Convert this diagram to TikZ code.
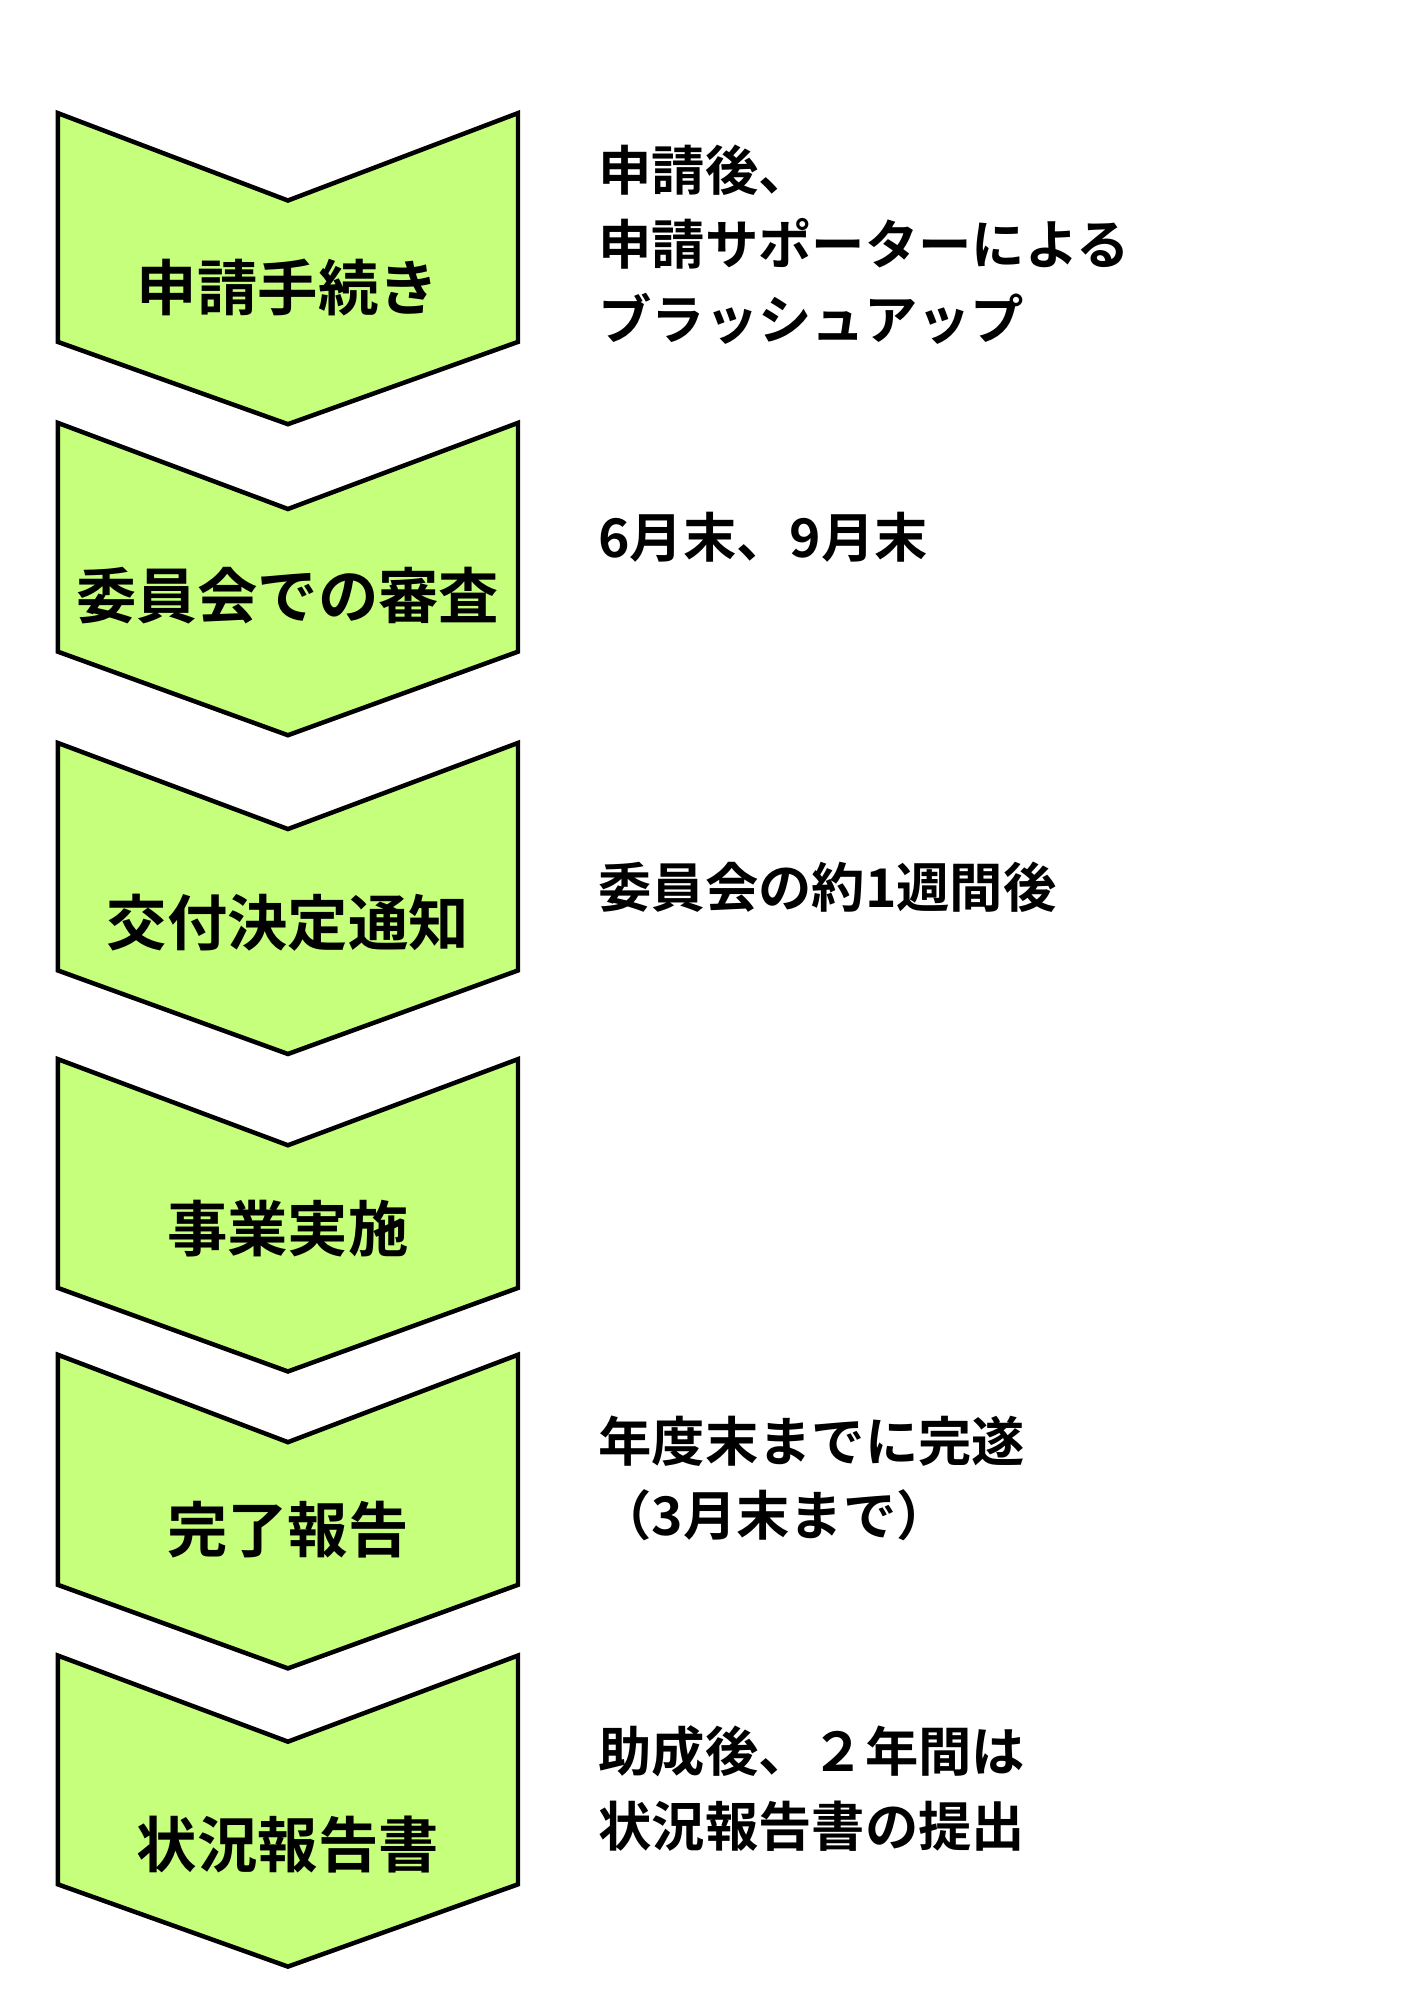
\documentclass[tikz,border=0pt]{standalone}
\usepackage{fontspec}
\setmainfont{Noto Sans CJK JP}[BoldFont={Noto Sans CJK JP Bold}]
\definecolor{lime}{HTML}{C6FF7C}
\begin{document}
\begin{tikzpicture}[x=1pt,y=-1pt,
  chev/.style={draw=black,line width=3.5pt,fill=lime,line join=miter},
  lab/.style={font=\fontsize{47}{50}\selectfont\bfseries,anchor=center},
  note/.style={font=\fontsize{41.5}{58}\selectfont\bfseries,anchor=north west,align=left}]
\useasboundingbox (0,0) rectangle (1100,1556);
\foreach \t/\n/\b/\p in {
  88/156/266/330,
  329/396/507/572,
  578/645/755/820,
  824/891/1002/1067,
  1054/1122/1233/1298,
  1288/1355/1466/1530}{
  \draw[chev] (45,\t) -- (224,\n) -- (403,\t) -- (403,\b) -- (224,\p) -- (45,\b) -- cycle;
}
\node[lab] (l1) at (224,224) {申請手続き};
\node[lab] (l2) at (224,463) {委員会での審査};
\node[lab] (l3) at (224,718) {交付決定通知};
\node[lab] (l4) at (224,956) {事業実施};
\node[lab] (l5) at (224,1190) {完了報告};
\node[lab] (l6) at (224,1435) {状況報告書};
\node[note] (n1) at (462,109) {申請後、\\申請サポーターによる\\ブラッシュアップ};
\node[note] (n2) at (462,395) {6月末、9月末};
\node[note] (n3) at (462,667) {委員会の約1週間後};
\node[note] (n5) at (462,1098) {年度末までに完遂\\（3月末まで）};
\node[note] (n6) at (462,1339) {助成後、２年間は\\状況報告書の提出};
\end{tikzpicture}
\end{document}
